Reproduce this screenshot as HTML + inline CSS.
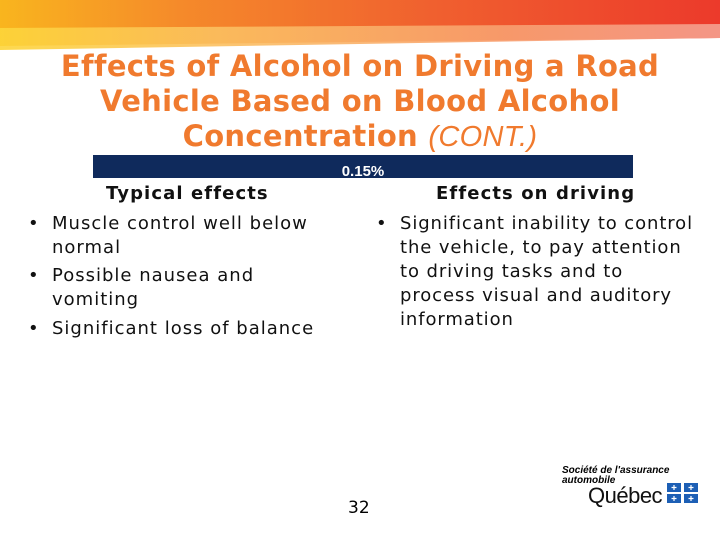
<!DOCTYPE html>
<html><head><meta charset="utf-8"><style>
body{margin:0;width:720px;height:540px;position:relative;overflow:hidden;background:#fff;font-family:"DejaVu Sans",sans-serif;}
.banner{position:absolute;left:0;top:0;width:720px;height:46px;background:linear-gradient(90deg,#f9b51e 0%,#f58a2a 25%,#f0602f 60%,#ec3a2b 100%);clip-path:polygon(0 0,100% 0,100% 38px,0 46px);}
.banner2{position:absolute;left:0;top:24px;width:720px;height:26px;background:linear-gradient(90deg,#fdd53a 0%,#fbc060 30%,#f8a070 70%,#f5a090 100%);clip-path:polygon(0 4px,100% 0,100% 14px,0 26px);opacity:0.9;}
.title{position:absolute;left:0;top:49px;width:720px;text-align:center;color:#f07a2e;font-family:"DejaVu Sans",sans-serif;font-weight:bold;font-size:29px;line-height:35px;letter-spacing:0.3px;}
.bar{position:absolute;left:93px;top:155px;width:540px;height:23px;background:#0f2a5c;color:#fff;font-family:"Liberation Sans",sans-serif;font-weight:bold;font-size:15px;text-align:center;line-height:33px;}
.h{position:absolute;font-weight:bold;font-size:18px;color:#111;letter-spacing:1.1px;}
ul{position:absolute;margin:0;padding:0;list-style:none;font-size:18px;line-height:24px;color:#111;letter-spacing:1px;}
li{position:relative;padding-left:26px;}
li:before{content:"•";position:absolute;left:2px;}
.num{position:absolute;left:348px;top:498px;font-size:17px;}
.logo{position:absolute;left:562px;top:466px;font-family:"Liberation Sans",sans-serif;}
</style></head><body>
<div class="banner"></div>
<div class="banner2"></div>
<div class="title">Effects of Alcohol on Driving a Road<br>Vehicle Based on Blood Alcohol<br>Concentration <i style="font-weight:normal;font-family:'Liberation Sans',sans-serif;">(CONT.)</i></div>
<div class="bar">0.15%</div>
<div class="h" style="left:106px;top:183px">Typical effects</div>
<div class="h" style="left:436px;top:183px">Effects on driving</div>
<ul style="left:26px;top:212px;width:300px">
<li style="margin-bottom:4px">Muscle control well below normal</li>
<li style="margin-bottom:5px">Possible nausea and vomiting</li>
<li>Significant loss of balance</li>
</ul>
<ul style="left:374px;top:212px;width:326px;letter-spacing:0.9px">
<li>Significant inability to control the vehicle, to pay attention to driving tasks and to process visual and auditory information</li>
</ul>
<div class="num">32</div>
<div class="logo">
<div style="font-size:10px;font-weight:bold;font-style:italic;line-height:10px">Société de l'assurance<br>automobile</div>
<div style="position:absolute;left:26px;top:17px;font-size:22px;color:#111;white-space:nowrap;letter-spacing:-0.5px">Québec</div>
<svg style="position:absolute;left:105px;top:17px" width="32" height="20"><rect x="0" y="0" width="14" height="9" fill="#1d5fb5"/><rect x="17" y="0" width="14" height="9" fill="#1d5fb5"/><rect x="0" y="11" width="14" height="9" fill="#1d5fb5"/><rect x="17" y="11" width="14" height="9" fill="#1d5fb5"/><path d="M7 2V7M4.5 4.5H9.5M24 2V7M21.5 4.5H26.5M7 13V18M4.5 15.5H9.5M24 13V18M21.5 15.5H26.5" stroke="#fff" stroke-width="1.2"/></svg>
</div>
</body></html>
